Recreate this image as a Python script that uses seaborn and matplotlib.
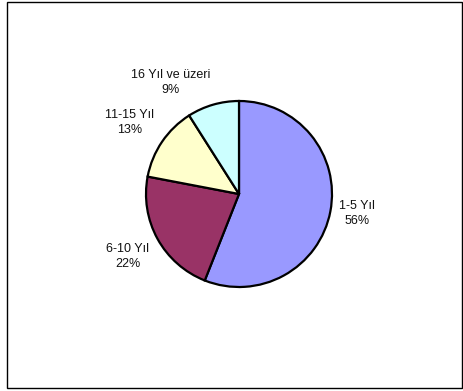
import numpy as np
import matplotlib
matplotlib.use("Agg")
import matplotlib.pyplot as plt
import seaborn as sns
from matplotlib.patches import Rectangle

sns.set_theme(style="white")
plt.rcParams['font.family'] = ['Liberation Sans', 'DejaVu Sans']

categories = ["1-5 Yıl", "6-10 Yıl", "11-15 Yıl", "16 Yıl ve üzeri"]
values = [56, 22, 13, 9]
colors = ["#9999FF", "#993366", "#FFFFCC", "#CCFFFF"]

fig = plt.figure(figsize=(4.64, 3.91), dpi=100)
fig.patch.set_facecolor("white")
# outer frame
fig.add_artist(Rectangle((7 / 464, 3 / 391), 455 / 464, 386 / 391, transform=fig.transFigure,
                         fill=False, edgecolor="black", linewidth=1.0))

# pie axes: center ~ (239,194) px, radius ~93 px
r_px = 93
cx, cy = 239, 391 - 194
ax = fig.add_axes([(cx - r_px) / 464, (cy - r_px) / 391, 2 * r_px / 464, 2 * r_px / 391])
wedges, _ = ax.pie(values, colors=colors, startangle=90, counterclock=False,
                   wedgeprops=dict(edgecolor="black", linewidth=1.6), radius=1.0)
ax.set_xlim(-1, 1)
ax.set_ylim(-1, 1)
ax.set_aspect("equal")
ax.axis("off")

total = sum(values)
for w, cat, v in zip(wedges, categories, values):
    ang = np.deg2rad((w.theta1 + w.theta2) / 2)
    x, y = 1.1 * np.cos(ang), 1.1 * np.sin(ang)
    ha = "left" if x > 0 else "right"
    s = np.sin(ang)
    va = "center" if abs(s) < 0.3 else ("bottom" if s > 0 else "top")
    ax.text(x, y, f"{cat}\n{round(100 * v / total)}%", ha=ha, va=va,
            multialignment="center", fontsize=9, color="#111111",
            linespacing=1.35, clip_on=False)

fig.savefig("out.png", dpi=100, facecolor="white")
